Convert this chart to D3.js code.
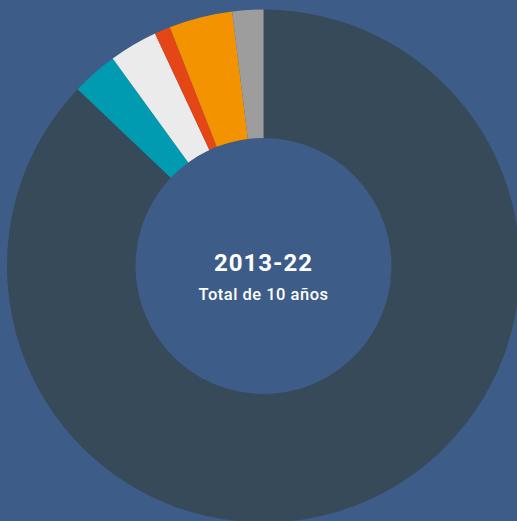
<!DOCTYPE html>
<html><head><meta charset="utf-8">
<script src="https://cdn.jsdelivr.net/npm/d3@7"></script>
<style>html,body{margin:0;padding:0;background:#3e5c88;overflow:hidden}</style>
</head><body>
<script>
const categories = ["A","B","C","D","E","F"];
const values = [87.1, 2.9, 3.05, 1.0, 4.0, 1.95];
const colors = ["#374a5a","#009bb1","#ebebeb","#e54615","#f49300","#9d9d9d"];
const title = "2013-22";
const subtitle = "Total de 10 años";

const W = 517, H = 521, cx = 263.5, cy = 266, R = 256.5, r = 128;
const svg = d3.select("body").append("svg").attr("width", W).attr("height", H);
svg.append("rect").attr("width", W).attr("height", H).attr("fill", "#3e5c88");
const g = svg.append("g").attr("transform", `translate(${cx},${cy})`);
const pie = d3.pie().sort(null).value(d => d);
const arc = d3.arc().innerRadius(r).outerRadius(R);
g.selectAll("path").data(pie(values)).join("path")
  .attr("d", arc).attr("fill", (d,i) => colors[i]);
g.append("text").attr("text-anchor","middle").attr("y", 4.7)
  .attr("fill","#fff").style("font-family","Roboto").style("font-weight","700")
  .style("font-size","24px").style("letter-spacing","1px").text(title);
g.append("text").attr("text-anchor","middle").attr("y", 34)
  .attr("fill","#fff").style("font-family","Roboto").style("font-weight","500")
  .style("font-size","16.5px").style("letter-spacing","0.5px").text(subtitle);
</script>
</body></html>
